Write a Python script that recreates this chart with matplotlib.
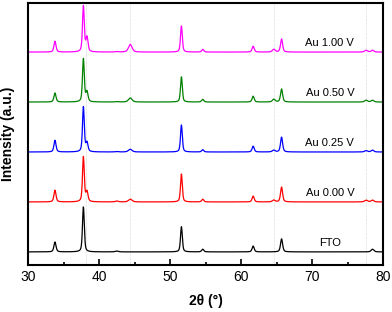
import matplotlib
matplotlib.use("Agg")
import matplotlib.pyplot as plt
import numpy as np

plt.rcParams['font.family'] = ['Liberation Sans', 'DejaVu Sans']

# sample names (bottom to top) and colours
samples = ["FTO", "Au 0.00 V", "Au 0.25 V", "Au 0.50 V", "Au 1.00 V"]
colors = ["black", "red", "blue", "green", "magenta"]

# peak positions (2theta, deg) and relative heights
peak_pos = [33.8, 37.8, 38.3, 42.5, 44.4, 51.6, 54.6, 61.7, 64.6, 65.7, 77.6, 78.5]
peak_fwhm = [0.35, 0.3, 0.35, 0.5, 0.6, 0.3, 0.35, 0.35, 0.45, 0.35, 0.5, 0.45]
heights = {
    "FTO":       [22, 100, 0, 2, 0, 56, 6, 13, 0, 29, 0, 6],
    "Au 0.00 V": [26, 100, 22, 2, 6, 62, 6, 13, 4, 33, 4, 4],
    "Au 0.25 V": [26, 100, 20, 1, 6, 60, 5, 13, 4, 33, 3, 4],
    "Au 0.50 V": [20, 96, 22, 1, 9, 56, 6, 13, 6, 29, 4, 4],
    "Au 1.00 V": [24, 102, 32, 1, 17, 58, 6, 13, 6, 29, 4, 4],
}
au_lines = [38.2, 44.4, 64.6, 77.6]

tt = np.linspace(30, 80, 2501)


def profile(x, pos, w, h):
    g = np.exp(-4 * np.log(2) * (x - pos) ** 2 / w ** 2)
    l = 1 / (1 + 4 * (x - pos) ** 2 / w ** 2)
    return h * (0.5 * g + 0.5 * l)


fig = plt.figure(figsize=(3.92, 3.12), dpi=100)
ax = fig.add_axes([0.0714, 0.151, 0.906, 0.839])

for xv in au_lines:
    ax.axvline(xv, color="#d0d0d0", lw=0.5, ls=(0, (1, 1)), zorder=0)

for i, (name, c) in enumerate(zip(samples, colors)):
    y = np.zeros_like(tt)
    for p, w, h in zip(peak_pos, peak_fwhm, heights[name]):
        y += profile(tt, p, w, h)
    ax.plot(tt, i + 0.009 * y, color=c, lw=0.9)
    ax.text(72.5, i + 0.18, name, ha="center", va="center", fontsize=8)

ax.set_xlim(30, 80)
ax.set_ylim(-0.26, 4.98)
ax.set_yticks([])
ax.set_xticks(np.arange(30, 81, 10))
ax.set_xticks(np.arange(35, 80, 10), minor=True)
ax.tick_params(axis="x", which="major", direction="in", length=4, width=1.2, labelsize=10, pad=4)
ax.tick_params(axis="x", which="minor", direction="in", length=2.5, width=1.2)
for s in ax.spines.values():
    s.set_linewidth(1.5)
ax.set_xlabel("2θ (°)", fontsize=10, fontweight="bold", labelpad=7)
ax.set_ylabel("Intensity (a.u.)", fontsize=10, fontweight="bold", labelpad=9)

fig.savefig("out.png", dpi=100)
